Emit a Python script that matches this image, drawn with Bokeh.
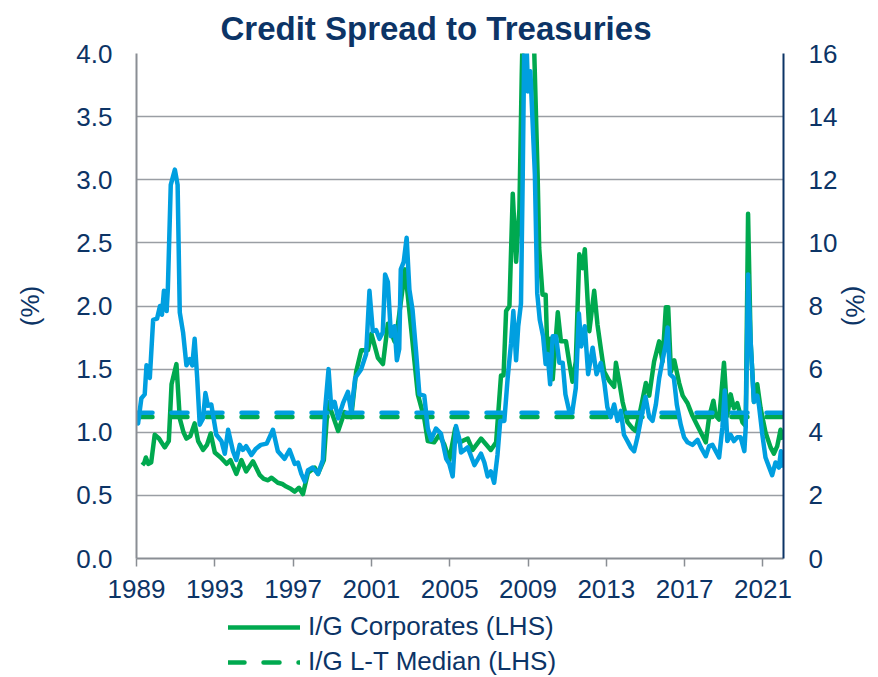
from bokeh.plotting import figure
from bokeh.layouts import column
from bokeh.models import (Range1d, LinearAxis, FixedTicker, NumeralTickFormatter,
                          Legend, LegendItem)
from bokeh.embed import file_html
from bokeh.resources import INLINE

# ---------------- data ----------------
ig_year = [1989.30, 1989.40, 1989.48, 1989.60, 1989.75, 1989.93, 1990.15, 1990.44, 1990.65,
           1990.79, 1991.04, 1991.21, 1991.40, 1991.55, 1991.75, 1991.97, 1992.15, 1992.40,
           1992.60, 1992.79, 1993.00, 1993.30, 1993.60, 1993.80, 1994.10, 1994.36, 1994.60,
           1994.95, 1995.30, 1995.50, 1995.72, 1995.90, 1996.22, 1996.45, 1996.65, 1996.90,
           1997.08, 1997.30, 1997.50, 1997.76, 1998.10, 1998.27, 1998.57, 1998.78, 1999.03,
           1999.30, 1999.63, 1999.97, 2000.22, 2000.48, 2000.82, 2001.00, 2001.33, 2001.59,
           2001.84, 2002.18, 2002.35, 2002.72, 2002.86, 2003.20, 2003.37, 2003.70, 2003.88,
           2004.20, 2004.47, 2004.73, 2004.98, 2005.28, 2005.50, 2005.92, 2006.17, 2006.60,
           2007.10, 2007.37, 2007.62, 2007.75, 2007.88, 2008.05, 2008.22, 2008.39, 2008.56,
           2008.68, 2008.85, 2009.00, 2009.20, 2009.32, 2009.49, 2009.57, 2009.74, 2009.90,
           2010.00, 2010.13, 2010.26, 2010.52, 2010.68, 2010.94, 2011.10, 2011.27, 2011.44,
           2011.62, 2011.79, 2011.90, 2012.13, 2012.38, 2012.55, 2012.72, 2012.89, 2013.14,
           2013.40, 2013.49, 2013.66, 2013.83, 2014.08, 2014.34, 2014.50, 2014.76, 2015.02,
           2015.19, 2015.44, 2015.70, 2015.87, 2016.04, 2016.16, 2016.30, 2016.47, 2016.72,
           2016.90, 2017.15, 2017.40, 2017.66, 2017.92, 2018.08, 2018.25, 2018.47, 2018.59,
           2018.76, 2019.01, 2019.18, 2019.35, 2019.52, 2019.69, 2019.95, 2020.12, 2020.24,
           2020.37, 2020.54, 2020.71, 2020.88, 2021.13, 2021.39, 2021.56, 2021.73, 2021.90,
           2022.03]
ig_spread = [0.74, 0.76, 0.80, 0.75, 0.76, 0.98, 0.95, 0.88, 0.93,
             1.38, 1.54, 1.11, 1.00, 0.95, 0.97, 1.07, 0.93, 0.86,
             0.90, 0.99, 0.84, 0.80, 0.75, 0.78, 0.67, 0.78, 0.69,
             0.77, 0.66, 0.63, 0.62, 0.64, 0.60, 0.59, 0.57, 0.55,
             0.53, 0.56, 0.51, 0.68, 0.72, 0.67, 0.78, 1.24, 1.13,
             1.01, 1.16, 1.12, 1.48, 1.65, 1.65, 1.78, 1.59, 1.54,
             1.86, 1.72, 1.85, 2.29, 2.08, 1.56, 1.30, 1.11, 0.93,
             0.92, 0.98, 0.90, 0.78, 1.03, 0.92, 0.95, 0.86, 0.95,
             0.86, 0.92, 1.45, 1.45, 1.96, 2.00, 2.89, 2.35, 2.77,
             3.84, 5.00, 5.60, 4.60, 4.00, 3.04, 2.46, 2.09, 2.09,
             1.56, 1.74, 1.42, 1.95, 1.72, 1.72, 1.56, 1.40, 1.56,
             2.41, 2.30, 2.45, 1.80, 2.12, 1.85, 1.66, 1.48, 1.41,
             1.36, 1.55, 1.40, 1.24, 1.08, 1.03, 1.01, 1.19, 1.39,
             1.29, 1.56, 1.72, 1.56, 1.99, 1.99, 1.48, 1.57, 1.39,
             1.29, 1.23, 1.13, 1.05, 0.97, 0.92, 1.12, 1.25, 1.13,
             1.10, 1.55, 1.13, 1.30, 1.19, 1.23, 1.08, 1.05, 2.73,
             1.72, 1.24, 1.38, 1.19, 1.00, 0.88, 0.83, 0.89, 1.02,
             0.94]

hy_year = [1989.00, 1989.08, 1989.25, 1989.42, 1989.51, 1989.68, 1989.85, 1990.05, 1990.20,
           1990.30, 1990.40, 1990.54, 1990.60, 1990.75, 1990.96, 1991.10, 1991.21, 1991.38,
           1991.55, 1991.72, 1991.85, 1991.97, 1992.10, 1992.23, 1992.40, 1992.52, 1992.65,
           1992.82, 1993.08, 1993.34, 1993.51, 1993.68, 1993.93, 1994.10, 1994.27, 1994.43,
           1994.60, 1994.87, 1995.10, 1995.35, 1995.65, 1995.97, 1996.22, 1996.56, 1996.82,
           1997.08, 1997.25, 1997.42, 1997.60, 1997.76, 1998.00, 1998.27, 1998.52, 1998.64,
           1998.81, 1998.95, 1999.12, 1999.30, 1999.55, 1999.80, 1999.97, 2000.17, 2000.48,
           2000.73, 2000.90, 2001.07, 2001.24, 2001.41, 2001.58, 2001.70, 2001.84, 2002.00,
           2002.18, 2002.30, 2002.42, 2002.50, 2002.65, 2002.80, 2002.94, 2003.10, 2003.28,
           2003.45, 2003.70, 2003.88, 2004.05, 2004.30, 2004.55, 2004.82, 2004.98, 2005.15,
           2005.32, 2005.50, 2005.58, 2005.92, 2006.26, 2006.60, 2006.77, 2006.94, 2007.10,
           2007.27, 2007.44, 2007.58, 2007.79, 2007.96, 2008.13, 2008.25, 2008.39, 2008.50,
           2008.64, 2008.73, 2008.81, 2008.92, 2009.00, 2009.12, 2009.35, 2009.47, 2009.60,
           2009.77, 2009.90, 2010.00, 2010.13, 2010.26, 2010.43, 2010.60, 2010.77, 2010.91,
           2011.10, 2011.27, 2011.44, 2011.60, 2011.72, 2011.90, 2012.07, 2012.30, 2012.50,
           2012.72, 2012.90, 2013.05, 2013.22, 2013.40, 2013.57, 2013.74, 2013.90, 2014.08,
           2014.25, 2014.42, 2014.59, 2014.85, 2015.00, 2015.19, 2015.36, 2015.53, 2015.70,
           2015.87, 2016.04, 2016.13, 2016.25, 2016.45, 2016.60, 2016.80, 2016.97, 2017.15,
           2017.40, 2017.66, 2017.83, 2018.08, 2018.25, 2018.42, 2018.59, 2018.76, 2018.93,
           2019.05, 2019.18, 2019.35, 2019.52, 2019.69, 2019.86, 2020.05, 2020.12, 2020.24,
           2020.37, 2020.54, 2020.71, 2020.80, 2020.97, 2021.13, 2021.30, 2021.47, 2021.64,
           2021.81, 2021.92, 2022.03]
hy_spread = [4.40, 4.28, 5.08, 5.20, 6.12, 5.72, 7.56, 7.60, 8.00,
             7.72, 8.48, 7.84, 8.52, 11.84, 12.32, 11.84, 7.80, 7.16,
             6.12, 6.32, 6.12, 6.96, 5.72, 4.24, 4.44, 5.24, 4.84,
             4.88, 3.92, 3.72, 3.32, 4.08, 3.40, 3.12, 3.60, 3.44,
             3.56, 3.28, 3.48, 3.60, 3.64, 4.08, 3.40, 3.16, 3.44,
             3.00, 3.04, 2.68, 2.44, 2.80, 2.88, 2.68, 3.12, 4.76,
             6.00, 4.76, 4.96, 4.44, 4.92, 5.28, 4.64, 5.72, 6.00,
             6.48, 8.48, 7.20, 7.24, 6.96, 7.16, 9.00, 8.76, 7.04,
             7.36, 6.28, 6.64, 9.16, 9.40, 10.16, 8.52, 7.88, 6.56,
             5.20, 5.16, 4.12, 3.76, 4.12, 3.96, 3.16, 3.00, 2.60,
             4.20, 3.76, 3.36, 3.52, 2.96, 3.32, 3.04, 2.60, 2.76,
             2.40, 3.28, 4.36, 4.36, 5.72, 6.80, 7.84, 6.28, 7.36,
             8.08, 12.16, 16.40, 16.40, 14.80, 15.44, 12.16, 8.40, 7.56,
             7.04, 6.16, 6.48, 5.52, 7.04, 7.04, 6.20, 6.20, 5.20,
             4.68, 4.68, 5.40, 7.76, 6.72, 7.36, 5.84, 6.68, 5.84,
             6.20, 5.56, 4.80, 4.48, 4.88, 4.36, 4.68, 3.92, 3.72,
             3.52, 3.40, 3.84, 4.68, 5.12, 4.48, 4.36, 4.88, 5.72,
             6.28, 6.80, 7.32, 5.84, 5.72, 4.88, 4.24, 3.84, 3.68,
             3.60, 3.76, 3.52, 3.24, 3.56, 3.60, 3.40, 3.20, 4.16,
             5.32, 3.72, 3.92, 3.72, 3.84, 3.84, 3.40, 4.16, 9.00,
             6.88, 4.96, 5.16, 4.84, 3.92, 3.20, 2.92, 2.64, 3.04,
             2.88, 3.40, 2.88]

ig_median = 1.12      # % (LHS)
hy_median = 4.62      # % (RHS)
period = [1989.0, 2022.05]
x_ticks = [1989, 1993, 1997, 2001, 2005, 2009, 2013, 2017, 2021]
lhs_ticks = [0, 0.5, 1.0, 1.5, 2.0, 2.5, 3.0, 3.5, 4.0]
rhs_ticks = [0, 2, 4, 6, 8, 10, 12, 14, 16]
legend_labels = ["I/G Corporates (LHS)", "I/G L-T Median (LHS)"]

# ---------------- style ----------------
NAVY = "#0c3466"
GREEN = "#00a94f"
BLUE = "#009fe0"
GRID = "#9a9ea4"
AXIS_GREY = "#8a8e94"
FONT = "Liberation Sans"
TICK_FS = "26px"
DASH = "16 19"
LW = 4.5

p = figure(width=878, height=608, output_backend="svg", toolbar_location=None,
           x_range=Range1d(period[0], period[1]), y_range=Range1d(0, 4),
           min_border_left=136, min_border_right=95, min_border_top=52,
           min_border_bottom=50)
p.extra_y_ranges = {"rhs": Range1d(0, 16)}
p.outline_line_color = None
p.background_fill_color = "white"
p.border_fill_color = "white"

p.title.text = "Credit Spread to Treasuries"
p.title.text_font = FONT
p.title.text_font_size = "33px"
p.title.text_font_style = "bold"
p.title.text_color = NAVY
p.title.align = "left"
p.title.offset = 84
p.title.standoff = 14

# grid
p.xgrid.visible = False
p.ygrid.ticker = FixedTicker(ticks=lhs_ticks)
p.ygrid.grid_line_color = GRID
p.ygrid.grid_line_width = 1.5

# x axis
xa = p.xaxis[0]
xa.ticker = FixedTicker(ticks=x_ticks)
xa.axis_line_color = AXIS_GREY
xa.axis_line_width = 2
xa.major_tick_line_color = AXIS_GREY
xa.major_tick_line_width = 1.5
xa.major_tick_out = 8
xa.major_tick_in = 0
xa.minor_tick_line_color = None
xa.major_label_text_font = FONT
xa.major_label_text_font_size = TICK_FS
xa.major_label_text_color = NAVY
xa.major_label_standoff = 13

# left axis
ya = p.yaxis[0]
ya.ticker = FixedTicker(ticks=lhs_ticks)
ya.formatter = NumeralTickFormatter(format="0.0")
ya.axis_line_color = AXIS_GREY
ya.axis_line_width = 2
ya.major_tick_line_color = None
ya.major_tick_out = 0
ya.major_tick_in = 0
ya.minor_tick_line_color = None
ya.major_label_text_font = FONT
ya.major_label_text_font_size = TICK_FS
ya.major_label_text_color = NAVY
ya.major_label_standoff = 24
ya.axis_label = "(%)"
ya.axis_label_text_font = FONT
ya.axis_label_text_font_size = TICK_FS
ya.axis_label_text_font_style = "normal"
ya.axis_label_text_color = NAVY
ya.axis_label_standoff = 28

# right axis
ra = LinearAxis(y_range_name="rhs", ticker=FixedTicker(ticks=rhs_ticks))
ra.axis_line_color = NAVY
ra.axis_line_width = 2
ra.major_tick_line_color = None
ra.major_tick_out = 0
ra.major_tick_in = 0
ra.minor_tick_line_color = None
ra.major_label_text_font = FONT
ra.major_label_text_font_size = TICK_FS
ra.major_label_text_color = NAVY
ra.major_label_standoff = 25
ra.axis_label = "(%)"
ra.axis_label_text_font = FONT
ra.axis_label_text_font_size = TICK_FS
ra.axis_label_text_font_style = "normal"
ra.axis_label_text_color = NAVY
ra.axis_label_standoff = 0
p.add_layout(ra, "right")

# ---------------- series ----------------
p.line(ig_year, ig_spread, line_color=GREEN, line_width=LW, line_join="round")
p.line(period, [ig_median, ig_median], line_color=GREEN, line_width=LW,
       line_dash=DASH, line_cap="round")
p.line(hy_year, hy_spread, line_color=BLUE, line_width=LW, line_join="round",
       y_range_name="rhs")
p.line(period, [hy_median, hy_median], line_color=BLUE, line_width=LW,
       line_dash=DASH, line_cap="round", y_range_name="rhs")

# ---------------- legend strip below the chart ----------------
# same series, drawn outside this strip's visible range so only the legend shows
lg = figure(width=878, height=69, output_backend="svg", toolbar_location=None,
            x_range=Range1d(0, 1), y_range=Range1d(0, 1), min_border=0)
lg.axis.visible = False
lg.grid.visible = False
lg.outline_line_color = None
lg.background_fill_color = "white"
lg.border_fill_color = "white"
r_ig = lg.line(ig_year, ig_spread, line_color=GREEN, line_width=LW, line_cap="round")
r_med = lg.line(period, [ig_median, ig_median], line_color=GREEN, line_width=LW,
                line_dash=DASH, line_cap="round")
legend = Legend(items=[LegendItem(label=legend_labels[0], renderers=[r_ig]),
                       LegendItem(label=legend_labels[1], renderers=[r_med])],
                location=(92, 0), orientation="vertical", padding=0, margin=0,
                spacing=4, glyph_width=72, glyph_height=26, label_height=26,
                label_standoff=8, label_text_font=FONT, label_text_font_size=TICK_FS,
                label_text_color=NAVY, background_fill_alpha=0, border_line_color=None)
lg.add_layout(legend)

open("out.html", "w").write(file_html(column(p, lg, spacing=0), INLINE))
